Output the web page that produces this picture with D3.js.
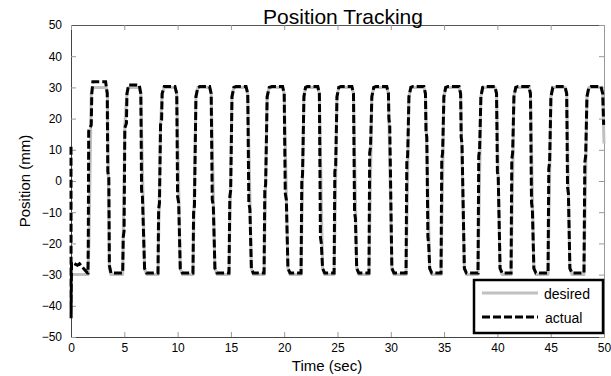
<!DOCTYPE html>
<html>
<head>
<meta charset="utf-8">
<script src="https://cdn.jsdelivr.net/npm/d3@7"></script>
<style>
  body { margin: 0; background: #fff; }
  svg { font-family: "Liberation Sans", Arial, sans-serif; }
</style>
</head>
<body>
<div id="chart"></div>
<script>
// values: [time (sec), position (mm)]
var xTicks = [0, 5, 10, 15, 20, 25, 30, 35, 40, 45, 50];
var yTicks = [-50, -40, -30, -20, -10, 0, 10, 20, 30, 40, 50];

var desired = [
  [0,-30],[1.6,-30],[1.68,-20],[1.9,28],[2.05,30],[3.3,30],[3.42,28],[3.6,-28],[3.75,-30],
  [4.85,-30],[5.05,18],[5.25,28],[5.4,30],[6.4,30],[6.55,28],[6.9,-28],[7.1,-30],
  [8.16,-30],[8.4,18],[8.55,28],[8.75,30],[9.75,30],[9.92,28],[10.25,-28],[10.45,-30],
  [11.44,-30],[11.72,27],[11.9,30],[13.0,30],[13.15,28],[13.5,-28],[13.7,-30],
  [14.82,-30],[15.1,27],[15.28,30],[16.42,30],[16.58,28],[16.92,-28],[17.1,-30],
  [18.11,-30],[18.4,27],[18.6,30],[19.85,30],[20.0,28],[20.35,-28],[20.55,-30],
  [21.58,-30],[21.85,27],[22.0,30],[23.15,30],[23.3,28],[23.6,-28],[23.8,-30],
  [24.68,-30],[24.95,27],[25.12,30],[26.35,30],[26.5,28],[26.8,-28],[27.0,-30],
  [27.95,-30],[28.22,27],[28.4,30],[29.62,30],[29.78,28],[30.1,-28],[30.3,-30],
  [31.43,-30],[31.7,27],[31.88,30],[33.1,30],[33.25,28],[33.65,-28],[33.85,-30],
  [34.71,-30],[34.98,27],[35.15,30],[36.4,30],[36.55,28],[36.9,-28],[37.1,-30],
  [38.18,-30],[38.45,27],[38.62,30],[39.77,30],[39.92,28],[40.25,-28],[40.45,-30],
  [41.28,-30],[41.55,27],[41.72,30],[42.96,30],[43.1,28],[43.42,-28],[43.62,-30],
  [44.75,-30],[45.02,27],[45.2,30],[46.34,30],[46.5,28],[46.8,-28],[47.0,-30],
  [48.12,-30],[48.4,27],[48.58,30],[49.72,30],[49.88,28],[50,12]
];

var actual = [
  [0,11],[0.01,-44],[0.05,-26],[0.6,-27],[0.8,-26.5],[1.3,-28.5],[1.55,-29.5],
  [1.59,-29.5],[1.62,-20],[1.66,16],[1.9,18],[1.95,28],[2.05,31.8],[3.25,31.8],[3.4,28],[3.45,3],[3.55,1],[3.6,-27],[3.75,-29.5],
  [4.85,-29.5],[4.9,-18],[4.98,-16],[5.05,17],[5.2,18.5],[5.25,28],[5.4,30.8],[6.4,30.8],[6.55,28],[6.62,-3],[6.7,-5],[6.9,-28],[7.1,-29.5],
  [8.16,-29.5],[8.22,-9],[8.3,-7],[8.4,18],[8.5,19.5],[8.55,28],[8.75,30.3],[9.75,30.3],[9.92,28],[10.0,-5],[10.1,-7],[10.25,-28],[10.45,-29.5],
  [11.44,-29.5],[11.5,-10],[11.58,-8],[11.72,27],[11.9,30],[12.1,30.3],[13.0,30.3],[13.15,28],[13.25,-6],[13.35,-8],[13.5,-28],[13.7,-29.5],
  [14.82,-29.5],[14.9,-5],[14.98,-3],[15.1,27],[15.28,30],[15.48,30.3],[16.42,30.3],[16.58,28],[16.68,-7],[16.78,-9],[16.92,-28],[17.1,-29.5],
  [18.11,-29.5],[18.18,-3],[18.26,-1],[18.4,27],[18.6,30],[18.85,30.3],[19.85,30.3],[20.0,28],[20.1,-4],[20.2,-6],[20.35,-28],[20.55,-29.5],
  [21.58,-29.5],[21.65,0],[21.72,2],[21.85,27],[22.0,30],[22.15,30.3],[23.15,30.3],[23.3,28],[23.4,-18],[23.48,-20],[23.6,-28],[23.8,-29.5],
  [24.68,-29.5],[24.75,3],[24.83,5],[24.95,27],[25.12,30],[25.33,30.3],[26.35,30.3],[26.5,28],[26.6,-10],[26.68,-12],[26.8,-28],[27.0,-29.5],
  [27.95,-29.5],[28.02,9],[28.1,11],[28.22,27],[28.4,30],[28.6,30.3],[29.62,30.3],[29.78,28],[29.82,20],[29.9,18],[30.1,-28],[30.3,-29.5],
  [31.43,-29.5],[31.5,6],[31.58,8],[31.7,27],[31.88,30],[32.08,30.3],[33.1,30.3],[33.25,28],[33.3,16],[33.38,14],[33.48,-18],[33.55,-20],[33.65,-28],[33.85,-29.5],
  [34.71,-29.5],[34.78,7],[34.86,9],[34.98,27],[35.15,30],[35.37,30.3],[36.4,30.3],[36.55,28],[36.6,14],[36.68,12],[36.9,-28],[37.1,-29.5],
  [38.18,-29.5],[38.25,8],[38.33,10],[38.45,27],[38.62,30],[38.84,30.3],[39.77,30.3],[39.92,28],[40.0,3],[40.08,1],[40.25,-28],[40.45,-29.5],
  [41.28,-29.5],[41.35,7],[41.43,9],[41.55,27],[41.72,30],[41.93,30.3],[42.96,30.3],[43.1,28],[43.2,-7],[43.28,-9],[43.42,-28],[43.62,-29.5],
  [44.75,-29.5],[44.82,4],[44.9,6],[45.02,27],[45.2,30],[45.4,30.3],[46.34,30.3],[46.5,28],[46.58,-2],[46.66,-4],[46.8,-28],[47.0,-29.5],
  [48.12,-29.5],[48.2,6],[48.28,8],[48.4,27],[48.58,30],[48.78,30.3],[49.72,30.3],[49.88,28],[49.97,18]
];

var W = 611, H = 376;
var mLeft = 71, mRight = 604, mTop = 25, mBottom = 337;

var svg = d3.select("#chart").append("svg").attr("width", W).attr("height", H);

var x = d3.scaleLinear().domain([0, 50]).range([mLeft, mRight]);
var y = d3.scaleLinear().domain([-50, 50]).range([mBottom, mTop]);

// axes box with inward ticks on all four sides
var axB = d3.axisBottom(x).tickValues(xTicks).tickSizeInner(-5).tickSizeOuter(0).tickPadding(6);
var axL = d3.axisLeft(y).tickValues(yTicks).tickSizeInner(-5).tickSizeOuter(0).tickPadding(9);
var axT = d3.axisTop(x).tickValues(xTicks).tickSizeInner(-5).tickSizeOuter(0).tickFormat("");
var axR = d3.axisRight(y).tickValues(yTicks).tickSizeInner(-5).tickSizeOuter(0).tickFormat("");

function style(g, col) {
  g.select(".domain").attr("stroke", col);
  g.selectAll(".tick line").attr("stroke", "#999");
  g.selectAll(".tick text").attr("fill", "#000").style("font-size", "12px")
    .style("font-family", "'Liberation Sans', Arial, sans-serif");
}

svg.append("g").attr("transform", "translate(0," + mBottom + ")").call(axB).call(style, "#444");
svg.append("g").attr("transform", "translate(" + mLeft + ",0)").call(axL).call(style, "#444");
svg.append("g").attr("transform", "translate(0," + mTop + ")").call(axT).call(style, "#555");
svg.append("g").attr("transform", "translate(" + mRight + ",0)").call(axR).call(style, "#999");

var line = d3.line().x(function(d) { return x(d[0]); }).y(function(d) { return y(d[1]); });

svg.append("path").datum(desired).attr("d", line)
  .attr("fill", "none").attr("stroke", "#c0c0c0").attr("stroke-width", 3)
  .attr("stroke-linejoin", "round");

svg.append("path").datum(actual).attr("d", line)
  .attr("fill", "none").attr("stroke", "#000").attr("stroke-width", 3)
  .attr("stroke-dasharray", "8,3");

// title and axis labels
svg.append("text").attr("x", 343).attr("y", 24).attr("text-anchor", "middle")
  .style("font-size", "21px").text("Position Tracking");
svg.append("text").attr("x", 327).attr("y", 371).attr("text-anchor", "middle")
  .style("font-size", "15px").text("Time (sec)");
svg.append("text").attr("transform", "translate(30,181) rotate(-90)").attr("text-anchor", "middle")
  .style("font-size", "15px").text("Position (mm)");

// legend
var lg = svg.append("g");
lg.append("rect").attr("x", 474).attr("y", 280).attr("width", 129).attr("height", 53)
  .attr("fill", "#fff").attr("stroke", "#000").attr("stroke-width", 2.5);
lg.append("line").attr("x1", 482).attr("x2", 538).attr("y1", 293).attr("y2", 293)
  .attr("stroke", "#c0c0c0").attr("stroke-width", 3);
lg.append("line").attr("x1", 482).attr("x2", 538).attr("y1", 317).attr("y2", 317)
  .attr("stroke", "#000").attr("stroke-width", 3).attr("stroke-dasharray", "8,3");
lg.append("text").attr("x", 544).attr("y", 299).style("font-size", "14px").text("desired");
lg.append("text").attr("x", 545).attr("y", 323).style("font-size", "14px").text("actual");
</script>
</body>
</html>
